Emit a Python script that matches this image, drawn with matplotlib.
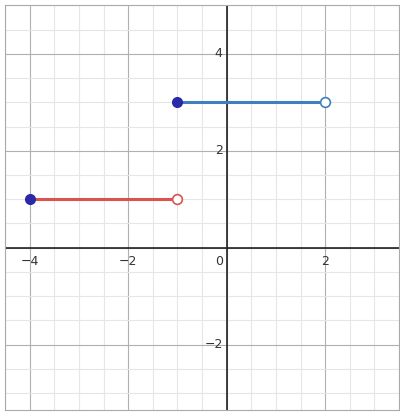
import matplotlib
matplotlib.use("Agg")
import matplotlib.pyplot as plt
import numpy as np

seg_x = [[-4, -1], [-1, 2]]
seg_y = [1, 3]
colors = ["#d9534f", "#3f7fbf"]
xticks = [-4, -2, 0, 2]
yticks = [-2, 2, 4]

fig = plt.figure(figsize=(4.0, 4.13), dpi=100)
ax = fig.add_axes([0.0125, 0.007, 0.985, 0.98])
xmin, xmax, ymin, ymax = -4.5, 3.5, -3.35, 5.0
ax.set_xlim(xmin, xmax); ax.set_ylim(ymin, ymax)
for v in np.arange(-4.5, 3.51, 0.5):
    ax.axvline(v, color="#e6e6e6" if v % 2 else "#b0b0b0", lw=0.8, zorder=0)
for v in np.arange(-3.0, 5.01, 0.5):
    ax.axhline(v, color="#e6e6e6" if v % 2 else "#b0b0b0", lw=0.8, zorder=0)
ax.axhline(0, color="#222222", lw=1.2, zorder=1)
ax.axvline(0, color="#222222", lw=1.2, zorder=1)
ax.set_xticks([]); ax.set_yticks([])
for s in ax.spines.values():
    s.set_color("#aaaaaa")
for xv in xticks:
    ax.text(xv if xv else -0.15, -0.15, str(xv).replace("-", "−") if xv else "0",
            ha="center", va="top", fontsize=9, color="#333333")
for yv in yticks:
    ax.text(-0.08, yv, str(yv).replace("-", "−"), ha="right", va="center",
            fontsize=9, color="#333333")
for (x0, x1), y, c in zip(seg_x, seg_y, colors):
    ax.plot([x0, x1], [y, y], color=c, lw=2.2, zorder=2)
    ax.plot(x0, y, "o", ms=7, mfc="#2a2aa8", mec="#2a2aa8", zorder=3)
    ax.plot(x1, y, "o", ms=7, mfc="white", mec=c, mew=1.2, zorder=3)
fig.savefig("out.png", dpi=100)
